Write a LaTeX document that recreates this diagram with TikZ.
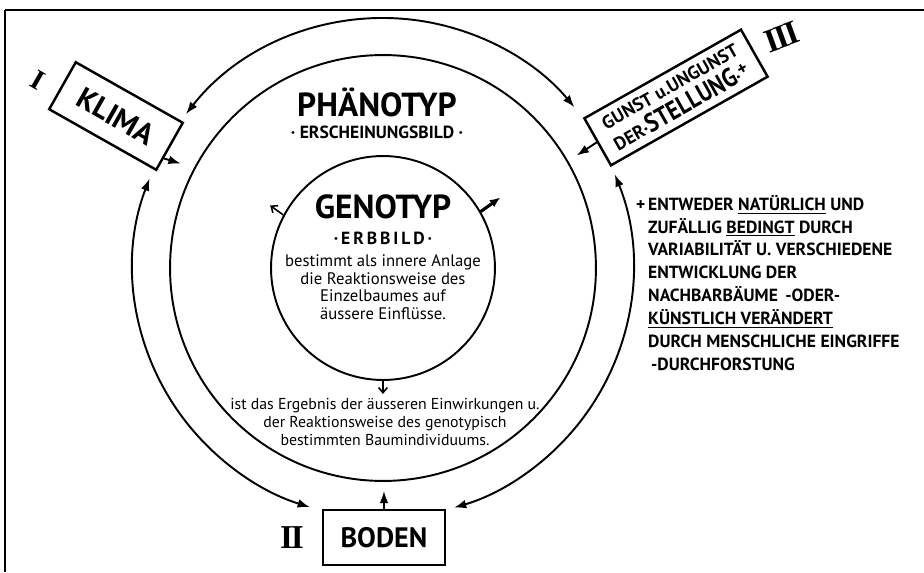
\documentclass[tikz,border=0pt]{standalone}
\usepackage{fontspec}
\setmainfont{PT Sans}
\newfontfamily\romfont{Liberation Serif}
\usepackage{graphicx}
\usetikzlibrary{arrows.meta}

\begin{document}
\begin{tikzpicture}[
  % Mastelis: vienas vienetas = vienas paveikslo taškas
  x=0.02cm, y=0.02cm,
  % Apskritimai ir rodyklės
  ring/.style={draw, circle, line width=1.1pt, inner sep=0pt},
  flow/.style={line width=1.1pt, {Latex[length=7pt,width=5pt]}-{Latex[length=7pt,width=5pt]}},
  push/.style={line width=1.1pt, -{Latex[length=7pt,width=5pt]}},
  sprout/.style={line width=0.9pt, -{Straight Barb[length=3pt,width=5pt]}},
  % Veiksnių dėžutės ir tekstai
  factor/.style={draw, rectangle, line width=1.4pt, inner sep=0pt},
  numeral/.style={font=\romfont\bfseries\fontsize{19}{19}\selectfont},
  title/.style={font=\bfseries\fontsize{19}{21}\selectfont},
  caption/.style={font=\bfseries\fontsize{10}{12}\selectfont},
  note/.style={align=center, font=\fontsize{9}{10}\selectfont}
]

  \useasboundingbox (-383,-304) rectangle (541,268);

  % Rėmelis
  \draw[line width=1.6pt] (-378,258) -- (541,258);
  \draw[line width=1.2pt] (-378,258) -- (-378,-304);

  % Fenotipas ir genotipas
  \coordinate (c) at (0,0);
  \node[ring, minimum size=8.52cm] (pheno) at (c) {};
  \node[ring, minimum size=4.48cm] (geno) at (c) {};

  \node[title] (phenoname) at (-6,166) {PHÄNOTYP};
  \node[caption] (phenosub) at (-6,136) {· ERSCHEINUNGSBILD ·};
  \node[title] (genoname) at (0,61) {GENOTYP};
  \node[caption] (genosub) at (0,30) {·\,E\,R\,B\,B\,I\,L\,D\,·};
  \node[note, font=\fontsize{9.5}{10}\selectfont] (genotext) at (0,-19) {bestimmt als innere Anlage\\die Reaktionsweise des\\Einzelbaumes auf\\äussere Einflüsse.};
  \node[note] (phenotext) at (2,-154) {ist das Ergebnis der äusseren Einwirkungen u.\\der Reaktionsweise des genotypisch\\bestimmten Baumindividuums.};

  % Veiksniai
  \node[factor, minimum width=2.46cm, minimum height=1.08cm, rotate=-29.5,
        font=\bfseries\fontsize{17}{17}\selectfont] (klima) at (-267,152) {KLIMA};
  \node[factor, minimum width=2.44cm, minimum height=1.1cm,
        font=\bfseries\fontsize{16}{16}\selectfont] (boden) at (1,-269.5) {BODEN};
  \node[factor, minimum width=3.6cm, minimum height=1.08cm, rotate=29.5, align=center,
        font=\bfseries\fontsize{10.5}{14}\selectfont] (stellung) at (293,170.5)
        {GUNST u.UNGUNST\\DER·\scalebox{0.85}[1]{\fontsize{15}{15}\selectfont STELLUNG}·\raisebox{3pt}{+}};

  \node[numeral, rotate=-30, scale=0.85] (n1) at (-345,188) {I};
  \node[numeral] (n2) at (-91,-270) {I\kern-1.2ptI};
  \node[numeral, rotate=20] (n3) at (399,231) {I\kern-1.2ptI\kern-1.2ptI};

  % Paaiškinimas dešinėje
  \node[anchor=north west, align=left, font=\bfseries\fontsize{10}{13}\selectfont] (remark) at (259,79)
    {\llap{+\,}ENTWEDER \underline{NATÜRLICH} UND\\
     ZUFÄLLIG \underline{BEDINGT} DURCH\\
     VARIABILITÄT U. VERSCHIEDENE\\
     ENTWICKLUNG DER\\
     NACHBARBÄUME \,-ODER-\\
     \underline{KÜNSTLICH VERÄNDERT}\\
     DURCH MENSCHLICHE EINGRIFFE\\
     \,-DURCHFORSTUNG};

  % Išoriniai lankai tarp veiksnių
  \draw[flow] ([shift={(142:250)}]c) arc[start angle=142, end angle=40, radius=250];
  \draw[flow] ([shift={(159:250)}]c) arc[start angle=159, end angle=253, radius=250];
  \draw[flow] ([shift={(22:250)}]c) arc[start angle=22, end angle=-73.5, radius=250];

  % Veiksnių poveikis fenotipui
  \draw[push, shorten >=0.28cm] (klima.-12) -- (pheno.152);
  \draw[push, shorten >=0.2cm] (stellung.west) -- (pheno.30);
  \draw[push, shorten >=0.18cm] (boden.north) -- (boden.north |- pheno.south);

  % Genotipo rodyklės
  \coordinate (gl) at (151:129);
  \coordinate (gr) at (31:137);
  \coordinate (gb) at (0,-126);
  \draw[sprout] (geno.152) -- (gl);
  \draw[line width=1.8pt, -{Latex[length=6pt,width=5pt]}] (geno.30) -- (gr);
  \draw[sprout] (geno.south) -- (gb);

\end{tikzpicture}
\end{document}
